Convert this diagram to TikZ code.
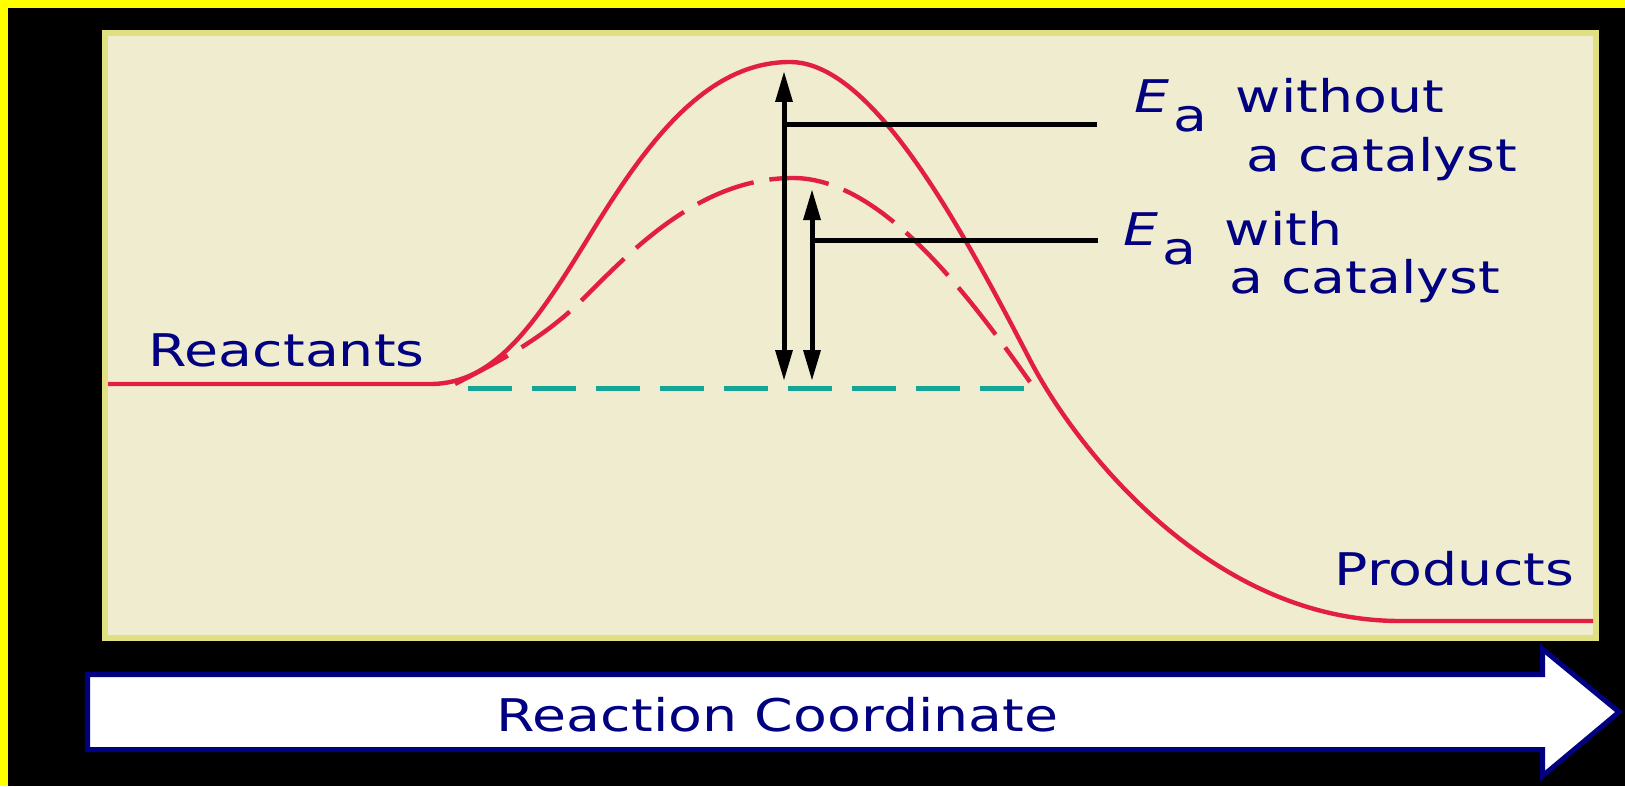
\documentclass[tikz,border=0pt]{standalone}
\usepackage{fontspec}
\usepackage{xcolor}
\newfontfamily\pixfont{DejaVu Sans}[FakeStretch=1.23]
\newcommand{\txtfont}{\pixfont\fontsize{22.5pt}{27pt}\selectfont}
\newcommand{\Ea}{{\itshape E}\kern2pt\raisebox{-9.5pt}{a}}

\begin{document}
\begin{tikzpicture}[x=0.5pt,y=0.5pt,yscale=-1,xscale=1]
\useasboundingbox (0,0) rectangle (1625,786);

%Shape: Rectangle [id:dp1042387550112]
\fill [color={rgb, 255:red, 0; green, 0; blue, 0 }] (0,0) rectangle (1625,786) ;
\fill [color={rgb, 255:red, 255; green, 255; blue, 0 }] (0,0) rectangle (1625,8) ;
\fill [color={rgb, 255:red, 255; green, 255; blue, 0 }] (0,0) rectangle (8,786) ;
%Shape: Rectangle [id:dp2250968134177]
\draw [color={rgb, 255:red, 224; green, 223; blue, 130 }  ,draw opacity=1 ][fill={rgb, 255:red, 240; green, 236; blue, 208 }  ,fill opacity=1 ][line width=3pt]  (105,33) rectangle (1596,638) ;

%Straight Lines [id:da5521093317760412]
\draw [color={rgb, 255:red, 20; green, 165; blue, 150 }  ,draw opacity=1 ][line width=2.5pt]  [dash pattern={on 22pt off 10pt}]  (468,388) -- (1035,388) ;
%Curve Lines [id:da3184002761520974]
\draw [color={rgb, 255:red, 226; green, 30; blue, 66 }  ,draw opacity=1 ][line width=2.2pt]  (108,384) -- (430,384) .. controls (495,384) and (535,325) .. (590,235) .. controls (645,145) and (705,62) .. (790,62) .. controls (870,62) and (955,215) .. (1030,360) .. controls (1075,447) and (1210,621) .. (1400,621) -- (1593,621) ;
%Curve Lines [id:da7716320935148209]
\draw [color={rgb, 255:red, 226; green, 30; blue, 66 }  ,draw opacity=1 ][line width=2.2pt]  [dash pattern={on 30pt off 8pt}]  (455,384) .. controls (492,365) and (542,340) .. (582,300) .. controls (632,250) and (700,178) .. (793,178) .. controls (880,178) and (965,290) .. (1030,382) ;

%Straight Lines [id:da0648152276935413]
\draw [line width=2.5pt]  (784,98) -- (784,354) ;
\draw [shift={(784,72)}, rotate = 90] [fill={rgb, 255:red, 0; green, 0; blue, 0 }  ][line width=0.08]  [draw opacity=0] (30,-9) -- (0,0) -- (30,9) -- cycle    ;
\draw [shift={(784,380)}, rotate = 270] [fill={rgb, 255:red, 0; green, 0; blue, 0 }  ][line width=0.08]  [draw opacity=0] (30,-9) -- (0,0) -- (30,9) -- cycle    ;
%Straight Lines [id:da8370125561940227]
\draw [line width=2.5pt]  (812,216) -- (812,354) ;
\draw [shift={(812,190)}, rotate = 90] [fill={rgb, 255:red, 0; green, 0; blue, 0 }  ][line width=0.08]  [draw opacity=0] (30,-9) -- (0,0) -- (30,9) -- cycle    ;
\draw [shift={(812,380)}, rotate = 270] [fill={rgb, 255:red, 0; green, 0; blue, 0 }  ][line width=0.08]  [draw opacity=0] (30,-9) -- (0,0) -- (30,9) -- cycle    ;

%Shape: Arrow [id:dp6631948027345512]
\draw [color={rgb, 255:red, 0; green, 0; blue, 128 }  ,draw opacity=1 ][fill={rgb, 255:red, 255; green, 255; blue, 255 }  ,fill opacity=1 ][line width=2.5pt]  (87.5,674.5) -- (1542.5,674.5) -- (1542.5,649) -- (1619,712) -- (1542.5,776) -- (1542.5,749.5) -- (87.5,749.5) -- cycle ;

% Text Node
\draw (1133,113) node (eawo) [anchor=base west][inner sep=0.75pt]  [font=\txtfont, color={rgb, 255:red, 0; green, 0; blue, 128 }]  {\Ea\hspace{14pt}without};
% Text Node
\draw (1245,172) node (catwo) [anchor=base west][inner sep=0.75pt]  [font=\txtfont, color={rgb, 255:red, 0; green, 0; blue, 128 }]  {a catalyst};
% Text Node
\draw (1122,245) node (eaw) [anchor=base west][inner sep=0.75pt]  [font=\txtfont, color={rgb, 255:red, 0; green, 0; blue, 128 }]  {\Ea\hspace{14pt}with};
% Text Node
\draw (1228,293) node (catw) [anchor=base west][inner sep=0.75pt]  [font=\txtfont, color={rgb, 255:red, 0; green, 0; blue, 128 }]  {a catalyst};
% Text Node
\draw (147,366) node (reac) [anchor=base west][inner sep=0.75pt]  [font=\txtfont, color={rgb, 255:red, 0; green, 0; blue, 128 }]  {Reactants};
% Text Node
\draw (1333,585) node (prod) [anchor=base west][inner sep=0.75pt]  [font=\txtfont, color={rgb, 255:red, 0; green, 0; blue, 128 }]  {Products};
% Text Node
\draw (495,731) node (rcoord) [anchor=base west][inner sep=0.75pt]  [font=\txtfont, color={rgb, 255:red, 0; green, 0; blue, 128 }]  {Reaction Coordinate};

%Straight Lines [id:da2907741365018834]
\draw [line width=2.5pt, shorten >=18pt]  (784,125) -- (eawo.west |- 0,125) ;
%Straight Lines [id:da4419870631150682]
\draw [line width=2.5pt, shorten >=12pt]  (812,240) -- (eaw.west |- 0,240) ;

\end{tikzpicture}
\end{document}
